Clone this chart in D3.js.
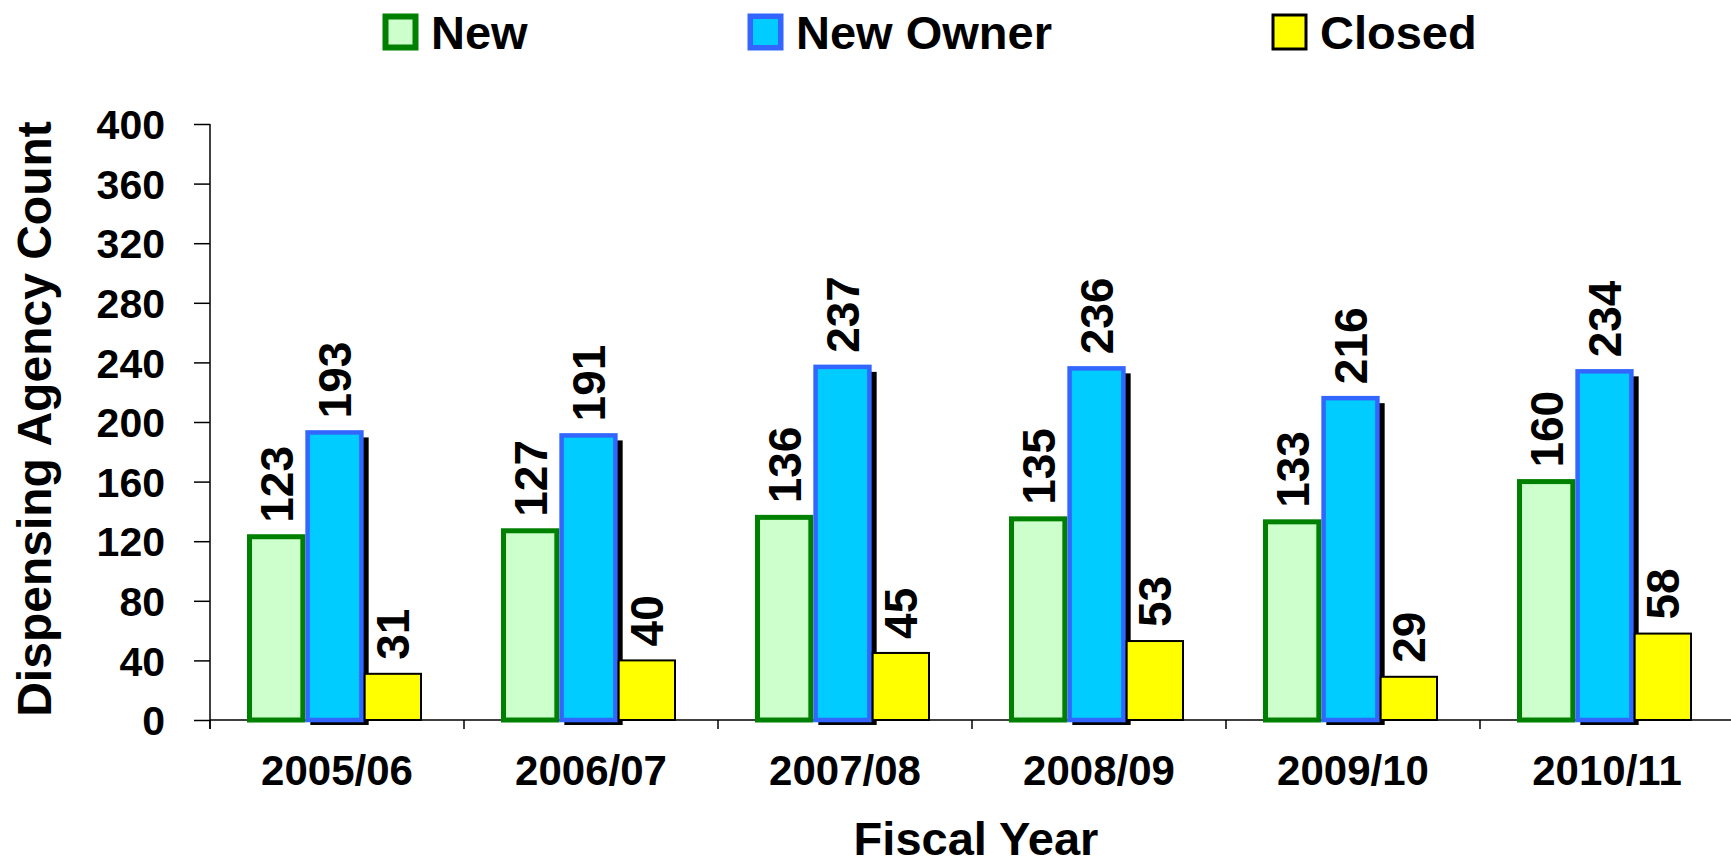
<!DOCTYPE html>
<head>
<meta charset="utf-8">
<title>Dispensing Agency Count</title>
<style>
body {
  margin: 0;
  background: #fff;
}
text {
  font-family: "Liberation Sans", Arial, sans-serif;
  font-weight: bold;
  fill: #000;
}
.axis path,
.axis line {
  stroke: #000;
  stroke-width: 1.5;
}
</style>
<script src="https://d3js.org/d3.v7.min.js"></script>
</head>

<body>

<script>
// data
var categories = ["2005/06", "2006/07", "2007/08", "2008/09", "2009/10", "2010/11"];
var seriesNames = ["New", "New Owner", "Closed"];
var newVals = [123, 127, 136, 135, 133, 160];
var newOwnerVals = [193, 191, 237, 236, 216, 234];
var closedVals = [31, 40, 45, 53, 29, 58];
var yTicks = [0, 40, 80, 120, 160, 200, 240, 280, 320, 360, 400];

var width = 1731,
    height = 866,
    x0Left = 210,
    bandW = 254,
    yTop = 124,
    yBottom = 720;

var fills = { "New": "#CCFFCC", "New Owner": "#00CCFF", "Closed": "#FFFF00" },
    strokes = { "New": "#008000", "New Owner": "#3366FF", "Closed": "#000" },
    strokeW = { "New": 5, "New Owner": 4.5, "Closed": 2 };

var data = categories.map(function(c, i) {
  return { cat: c, vals: [newVals[i], newOwnerVals[i], closedVals[i]] };
});

var svg = d3.select("body").append("svg")
    .attr("width", width)
    .attr("height", height);

// scales
var x0 = d3.scaleBand()
    .domain(categories)
    .range([x0Left, x0Left + bandW * categories.length]);
var x1 = d3.scaleBand()
    .domain(seriesNames)
    .range([0, 175]);
var groupOffset = 37;
var y = d3.scaleLinear()
    .domain([0, 400])
    .range([yBottom, yTop]);

// y axis
var yAxis = svg.append("g")
    .attr("class", "axis")
    .attr("transform", "translate(" + x0Left + ",0)")
    .call(d3.axisLeft(y).tickValues(yTicks).tickSize(16).tickPadding(29).tickSizeOuter(0));
yAxis.selectAll("text")
    .style("font-size", "41px")
    .attr("dy", "0.36em");
yAxis.select(".domain").attr("d", "M0," + yTop + "V" + (yBottom + 9));

// x axis: labels from the band scale, ticks on the band edges
var xAxis = svg.append("g")
    .attr("class", "axis")
    .attr("transform", "translate(0," + yBottom + ")")
    .call(d3.axisBottom(x0).tickSize(0).tickPadding(35));
xAxis.select(".domain").attr("d", "M" + x0Left + ",0H" + width);
xAxis.selectAll("text")
    .style("font-size", "42px");
xAxis.selectAll(".edge")
    .data(categories)
    .enter().append("line")
    .attr("x1", function(d) { return x0(d); })
    .attr("x2", function(d) { return x0(d); })
    .attr("y1", 0)
    .attr("y2", 9);

// bars
var groups = svg.selectAll(".grp")
    .data(data)
    .enter().append("g")
    .attr("class", "grp")
    .attr("transform", function(d) { return "translate(" + (x0(d.cat) + groupOffset) + ",0)"; });

// shadow behind the New Owner bar
groups.append("rect")
    .attr("x", x1("New Owner") + 5)
    .attr("y", function(d) { return y(d.vals[1]) + 5; })
    .attr("width", x1.bandwidth())
    .attr("height", function(d) { return yBottom - y(d.vals[1]); })
    .attr("fill", "#000");

groups.selectAll(".bar")
    .data(function(d) { return seriesNames.map(function(s, j) { return { s: s, v: d.vals[j] }; }); })
    .enter().append("rect")
    .attr("class", "bar")
    .attr("x", function(d) { return x1(d.s) + strokeW[d.s] / 2; })
    .attr("y", function(d) { return y(d.v); })
    .attr("width", function(d) { return x1.bandwidth() - strokeW[d.s]; })
    .attr("height", function(d) { return yBottom - y(d.v); })
    .attr("fill", function(d) { return fills[d.s]; })
    .attr("stroke", function(d) { return strokes[d.s]; })
    .attr("stroke-width", function(d) { return strokeW[d.s]; });

// value labels, rotated
groups.selectAll(".lbl")
    .data(function(d) { return seriesNames.map(function(s, j) { return { s: s, v: d.vals[j] }; }); })
    .enter().append("text")
    .attr("class", "lbl")
    .attr("transform", function(d) {
      return "translate(" + (x1(d.s) + x1.bandwidth() / 2) + "," + (y(d.v) - 14) + ") rotate(-90)";
    })
    .attr("dy", "0.36em")
    .style("font-size", "46px")
    .text(function(d) { return d.v; });

// axis titles
svg.append("text")
    .attr("transform", "translate(51," + ((yTop + yBottom) / 2 - 3) + ") rotate(-90)")
    .attr("text-anchor", "middle")
    .style("font-size", "48px")
    .text("Dispensing Agency Count");

svg.append("text")
    .attr("x", 976)
    .attr("y", 855)
    .attr("text-anchor", "middle")
    .style("font-size", "47px")
    .text("Fiscal Year");

// legend
var legendX = [383, 748, 1272];
var legend = svg.selectAll(".leg")
    .data(seriesNames)
    .enter().append("g")
    .attr("class", "leg")
    .attr("transform", function(d, i) { return "translate(" + legendX[i] + ",14)"; });
legend.append("rect")
    .attr("x", function(d) { return strokeW[d] / 2; })
    .attr("y", function(d) { return strokeW[d] / 2; })
    .attr("width", function(d) { return 35 - strokeW[d]; })
    .attr("height", function(d) { return 36 - strokeW[d]; })
    .attr("fill", function(d) { return fills[d]; })
    .attr("stroke", function(d) { return strokes[d]; })
    .attr("stroke-width", function(d) { return strokeW[d] + 1; });
legend.append("text")
    .attr("x", 48)
    .attr("y", 35)
    .style("font-size", "47px")
    .text(function(d) { return d; });
</script>

</body>
